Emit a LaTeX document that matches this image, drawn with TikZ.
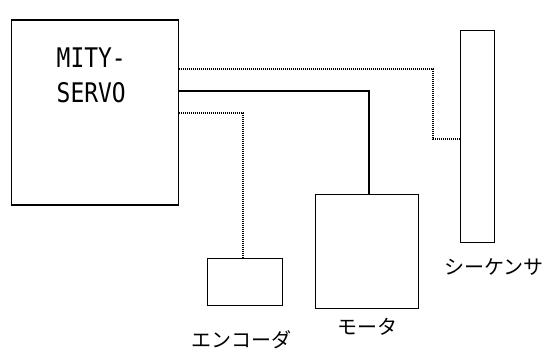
\documentclass[tikz,border=0pt]{standalone}
\usepackage{fontspec}
\newfontfamily\jp{Noto Sans CJK JP}
\newfontfamily\mono{DejaVu Sans Mono}
\begin{document}
\begin{tikzpicture}[x=1pt,y=-1pt,
  box/.style={draw,line width=1.4pt,inner sep=0pt,anchor=north west},
  solidline/.style={line width=1.4pt},
  dotline/.style={line width=1.3pt,dash pattern=on 1pt off 1pt},
  lbl/.style={font=\jp\fontsize{20}{20}\selectfont,inner sep=0pt},
  srv/.style={font=\mono\fontsize{27}{27}\selectfont,inner sep=0pt,anchor=base west}]
\useasboundingbox (0,0) rectangle (547,352);
\node[box,minimum width=166.5pt,minimum height=185pt] (servo) at (11,19.5) {};
\node[box,minimum width=34pt,minimum height=212pt] (seq) at (460,30) {};
\node[box,minimum width=103pt,minimum height=114pt] (motor) at (315,194) {};
\node[box,minimum width=75pt,minimum height=47pt] (enc) at (207,258) {};
\node[srv] (t1) at (56.5,68) {\scalebox{0.85}[1]{MITY-}};
\node[srv] (t2) at (56.5,103) {\scalebox{0.85}[1]{SERVO}};
\node[lbl] (l1) at (494,267) {シーケンサ};
\node[lbl] (l2) at (367,327) {モータ};
\node[lbl] (l3) at (241,340) {エンコーダ};
\coordinate (a1) at (433,69);
\coordinate (a2) at (433,139);
\coordinate (m1) at (369,91);
\coordinate (e1) at (243,113);
\draw[dotline] (servo.east |- a1) -- (a1) -- (a2) -- (seq.west |- a2);
\draw[solidline] (servo.east |- m1) -- (m1) -- (m1 |- motor.north);
\draw[dotline] (servo.east |- e1) -- (e1) -- (e1 |- enc.north);
\end{tikzpicture}
\end{document}
